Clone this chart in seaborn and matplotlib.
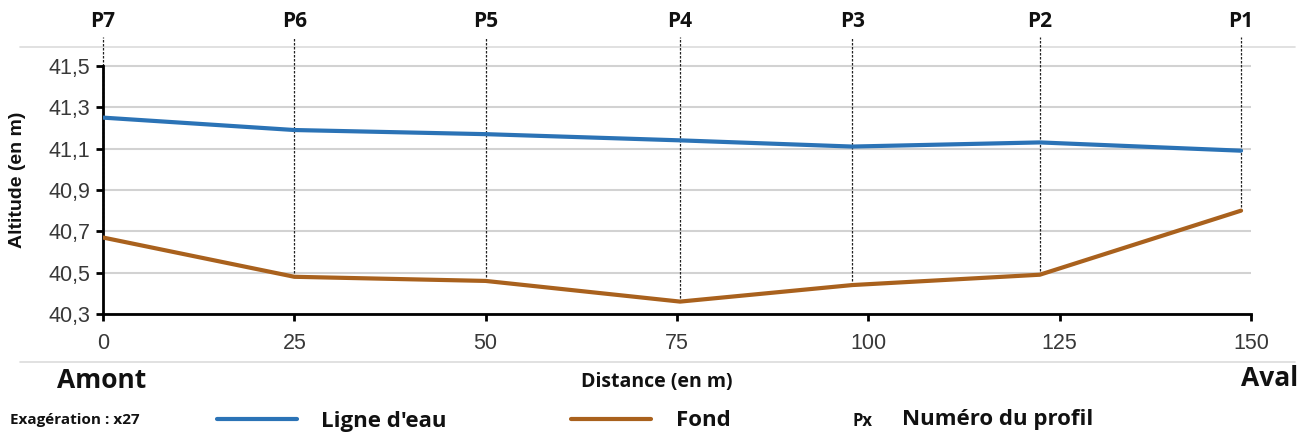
import matplotlib
matplotlib.use("Agg")
import matplotlib.pyplot as plt
from matplotlib.lines import Line2D
from matplotlib.ticker import FuncFormatter
import pandas as pd
import seaborn as sns

# profils en long (amont -> aval)
profils = ["P7", "P6", "P5", "P4", "P3", "P2", "P1"]
distance = [0, 25, 50, 75.4, 97.9, 122.4, 148.7]
ligne_eau = [41.25, 41.19, 41.17, 41.14, 41.11, 41.13, 41.09]
fond = [40.67, 40.48, 40.46, 40.36, 40.44, 40.49, 40.80]

xticks = [0, 25, 50, 75, 100, 125, 150]
yticks = [40.3, 40.5, 40.7, 40.9, 41.1, 41.3, 41.5]

couleurs = {"Ligne d'eau": "#2b73b6", "Fond": "#a9611d"}

df = pd.concat([
    pd.DataFrame({"distance": distance, "altitude": ligne_eau, "serie": "Ligne d'eau"}),
    pd.DataFrame({"distance": distance, "altitude": fond, "serie": "Fond"}),
])

sns.set_theme(style="white")
plt.rcParams["font.family"] = ["Liberation Sans", "DejaVu Sans"]
titre_font = ["Open Sans", "DejaVu Sans"]

W, H = 1309, 437
fig = plt.figure(figsize=(W / 100, H / 100), dpi=100)
ax = fig.add_axes([103 / W, 1 - 314 / H, (1251 - 103) / W, (314 - 37) / H])
ax.set_facecolor("none")

# filets gris clair haut / bas
for yp in (47, 362):
    fig.add_artist(Line2D([20 / W, 1295 / W], [1 - yp / H, 1 - yp / H],
                          transform=fig.transFigure, color="#dcdcdc", lw=1.2, zorder=0))

sns.lineplot(data=df, x="distance", y="altitude", hue="serie", palette=couleurs,
             lw=3, legend=False, ax=ax, zorder=3)

ymax = 41.64
ax.set_xlim(0, 150)
ax.set_ylim(40.3, ymax)

# traits verticaux des profils
ax.vlines(distance, fond, ymax, colors="#222222", lw=0.9,
          linestyles=(0, (2, 1.2)), zorder=2, clip_on=False)
for d, p in zip(distance, profils):
    ax.text(d, 41.715, p, ha="center", va="center", fontsize=15,
            fontweight="bold", family=titre_font, color="#111111")

ax.set_xticks(xticks)
ax.set_yticks(yticks)
ax.yaxis.set_major_formatter(FuncFormatter(lambda v, _: f"{v:.1f}".replace(".", ",")))
ax.yaxis.grid(True, color="#d2d2d2", lw=1.5)
ax.xaxis.grid(False)
for s in ["top", "right"]:
    ax.spines[s].set_visible(False)
for s in ["left", "bottom"]:
    ax.spines[s].set_color("black")
    ax.spines[s].set_linewidth(2)
ax.spines["left"].set_bounds(40.3, 41.5)
ax.tick_params(axis="both", which="major", length=5, width=2, color="black",
               labelsize=15.5, labelcolor="#383838", left=True, bottom=True)
ax.tick_params(axis="x", pad=9)
ax.tick_params(axis="y", pad=4)
ax.set_xlabel("")
ax.set_ylabel("")

fig.text(18 / W, 1 - 180 / H, "Altitude (en m)", rotation=90, ha="center",
         va="center", fontsize=14, fontweight="bold", color="#111111")
fig.text(657 / W, 1 - 382 / H, "Distance (en m)", ha="center", va="center",
         fontsize=14, fontweight="bold", family=titre_font, color="#111111")
fig.text(102 / W, 1 - 381 / H, "Amont", ha="center", va="center",
         fontsize=19, fontweight="bold", family=titre_font, color="#111111")
fig.text(1298 / W, 1 - 379 / H, "Aval", ha="right", va="center",
         fontsize=19, fontweight="bold", family=titre_font, color="#111111")

# légende
fig.text(10 / W, 1 - 420 / H, "Exagération : x27", ha="left", va="center",
         fontsize=11, fontweight="bold", family=titre_font, color="#111111")
handles = ax.lines[:2]
leg = fig.legend(handles, list(couleurs.keys()), loc="center left",
                 bbox_to_anchor=(217 / W, 1 - 421 / H), ncol=2, frameon=False,
                 borderpad=0, borderaxespad=0, handlelength=3.6, handletextpad=1.1,
                 columnspacing=5.6,
                 prop={"family": titre_font, "weight": "bold", "size": 16})
for t in leg.get_texts():
    t.set_color("#111111")
fig.text(853 / W, 1 - 421 / H, "Px", ha="left", va="center",
         fontsize=12, fontweight="bold", family=titre_font, color="#111111")
fig.text(902 / W, 1 - 420 / H, "Numéro du profil", ha="left", va="center",
         fontsize=16, fontweight="bold", family=titre_font, color="#111111")

fig.savefig("out.png", dpi=100)
